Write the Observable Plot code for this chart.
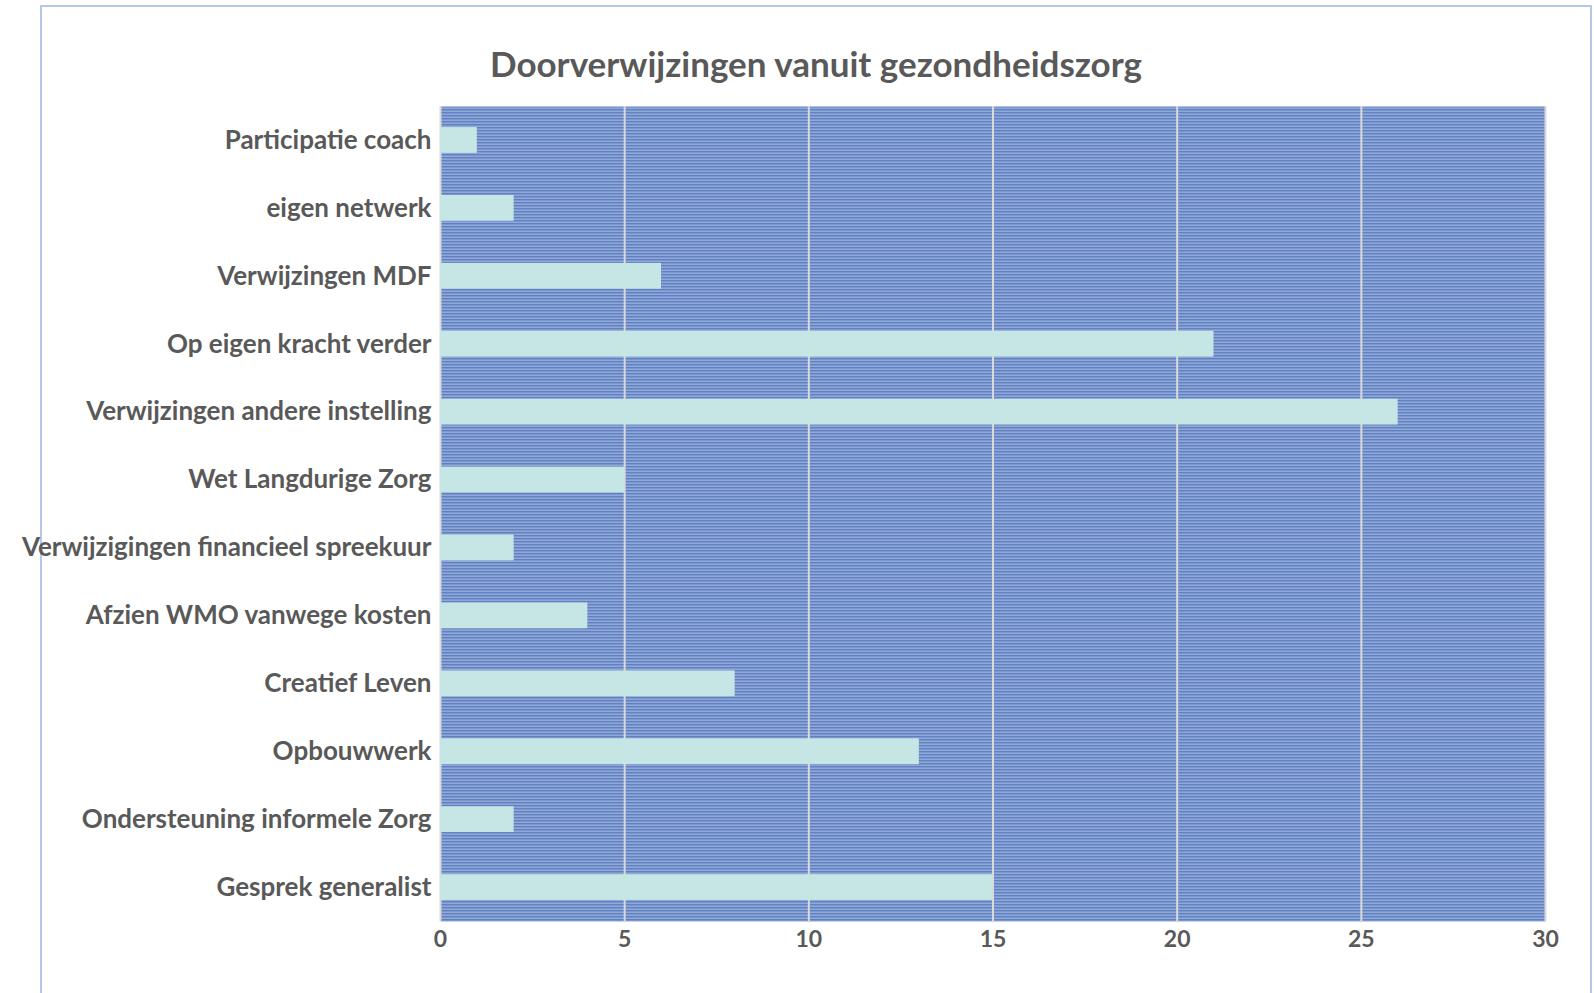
<!DOCTYPE html>
<html>
<head>
<meta charset="utf-8">
<script src="https://cdn.jsdelivr.net/npm/d3@7"></script>
<script src="https://cdn.jsdelivr.net/npm/@observablehq/plot@0.6"></script>
<style>
  html, body { margin: 0; padding: 0; background: #fff; }
  #wrap { position: relative; width: 1594px; height: 993px; overflow: hidden; }
  #border { position: absolute; left: 40px; top: 5px; width: 1552px; height: 1100px; border: 2px solid #b4c7e7; box-sizing: border-box; }
  #title { position: absolute; top: 42px; left: 0; width: 1632px; text-align: center; font-family: Lato, sans-serif; font-weight: bold; font-size: 35px; line-height: 42px; color: #595959; }
  #chart { position: absolute; left: 0; top: 0; }
</style>
</head>
<body>
<div id="wrap">
  <div id="border"></div>
  <div id="title">Doorverwijzingen vanuit gezondheidszorg</div>
  <div id="chart"></div>
</div>
<script>
const categories = [
  "Participatie coach",
  "eigen netwerk",
  "Verwijzingen MDF",
  "Op eigen kracht verder",
  "Verwijzingen andere instelling",
  "Wet Langdurige Zorg",
  "Verwijzigingen financieel spreekuur",
  "Afzien WMO vanwege kosten",
  "Creatief Leven",
  "Opbouwwerk",
  "Ondersteuning informele Zorg",
  "Gesprek generalist"
];
const values = [1, 2, 6, 21, 26, 5, 2, 4, 8, 13, 2, 15];
const xTicks = [0, 5, 10, 15, 20, 25, 30];

const data = categories.map((c, i) => ({category: c, value: values[i]}));

const plot = Plot.plot({
  width: 1594,
  height: 993,
  marginTop: 106,
  marginLeft: 440,
  marginRight: 49,
  marginBottom: 72,
  style: {fontFamily: "Lato, sans-serif", fontWeight: "bold", color: "#595959", background: "transparent"},
  x: {domain: [0, 30], ticks: xTicks},
  y: {domain: categories, paddingInner: 0.62, paddingOuter: 0.31, round: false, label: null},
  marks: [
    Plot.frame({fill: "url(#stripes)", stroke: null}),
    Plot.gridX(xTicks, {stroke: "#d9d9d9", strokeOpacity: 1, strokeWidth: 2}),
    Plot.barX(data, {x: "value", y: "category", fill: "#c5e6e4"}),
    Plot.axisY({tickSize: 0, tickPadding: 9, fontSize: 26, label: null, fill: "#595959"}),
    Plot.axisX(xTicks, {tickSize: 0, tickPadding: 9, fontSize: 23, label: null, fill: "#595959"})
  ]
});

const svg = d3.select(plot);
const defs = svg.insert("defs", ":first-child");
const pat = defs.append("pattern")
  .attr("id", "stripes")
  .attr("patternUnits", "userSpaceOnUse")
  .attr("x", 0).attr("y", 106)
  .attr("width", 10).attr("height", 3);
pat.append("rect").attr("x", 0).attr("y", 0).attr("width", 10).attr("height", 1).attr("fill", "#4a6fb8");
pat.append("rect").attr("x", 0).attr("y", 1).attr("width", 10).attr("height", 1).attr("fill", "#a9bee4");
pat.append("rect").attr("x", 0).attr("y", 2).attr("width", 10).attr("height", 1).attr("fill", "#7591cc");

document.getElementById("chart").appendChild(plot);
</script>
</body>
</html>
